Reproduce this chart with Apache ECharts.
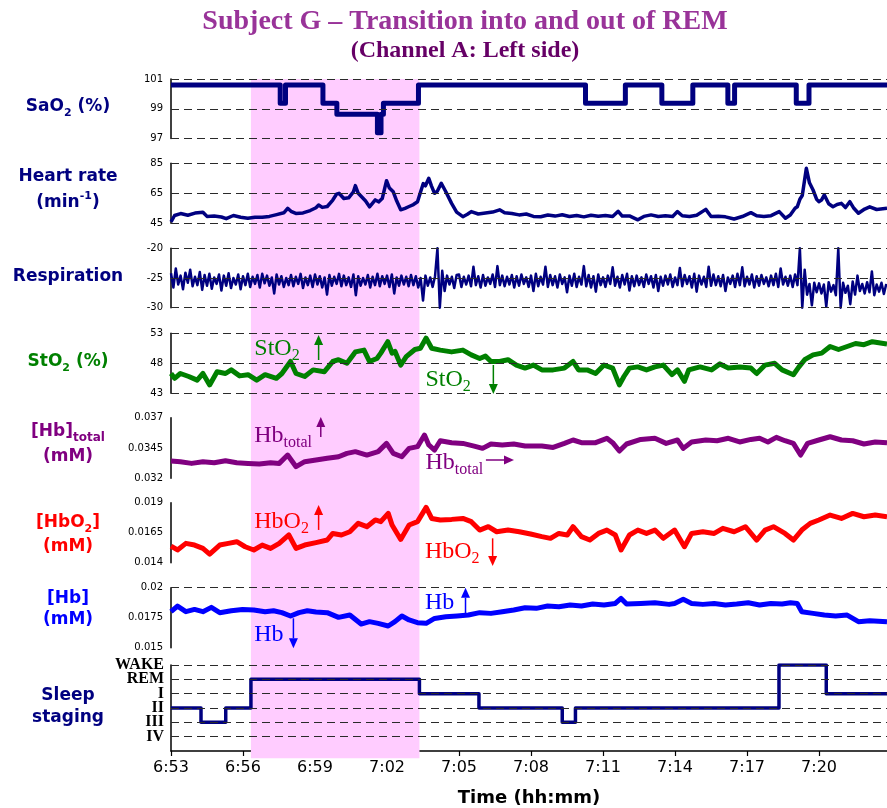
<!DOCTYPE html>
<html>
<head>
<meta charset="utf-8">
<script src="https://cdn.jsdelivr.net/npm/echarts@6/dist/echarts.min.js"></script>
<style>
  html, body { margin: 0; padding: 0; background: #ffffff; }
  #chart { width: 887px; height: 808px; }
</style>
</head>
<body>
<div id="chart"></div>
<script>
// ---- Recording data (time in minutes after the clock start) ----
const clockStart = [6, 53];          // 6:53
const timeEnd = 29.83;               // end of the recording window (min)
const timeTickStep = 3;              // one tick every 3 minutes

// SaO2 (%), step signal: [minute, value]
const sao2 = [
  [0, 100.6], [4.55, 99.37], [4.77, 100.6], [6.33, 99.37], [6.91, 98.63], [8.6, 97.39],
  [8.75, 98.63], [8.85, 99.37], [10.31, 100.6], [17.27, 99.37], [18.93, 100.6], [20.45, 99.37],
  [21.74, 100.6], [23.2, 99.37], [23.48, 100.6], [26.05, 99.37], [26.58, 100.6], [29.83, 100.6]
];

// Heart rate (1/min)
const heartRate = [
  [0,46.0],[0.15,50.2],[0.4,51.5],[0.7,50.4],[1.0,51.8],[1.33,52.4],[1.5,49.6],[1.8,49.8],[2.1,49.2],[2.3,48.1],
  [2.6,50.2],[2.9,49.0],[3.2,48.4],[3.5,49.1],[3.8,49.0],[4.1,49.6],[4.4,50.8],[4.7,52.0],[4.86,55.0],[5.0,53.0],
  [5.2,51.6],[5.5,51.9],[5.8,53.5],[6.04,55.4],[6.15,57.2],[6.3,55.6],[6.51,56.2],[6.74,60.5],[6.9,64.5],[7.0,65.0],
  [7.2,61.5],[7.4,62.0],[7.6,66.0],[7.68,70.1],[7.8,65.0],[7.92,63.0],[8.1,60.0],[8.27,56.0],[8.4,58.5],[8.51,60.6],
  [8.65,59.3],[8.8,61.5],[8.98,73.4],[9.1,68.5],[9.26,66.0],[9.4,60.0],[9.57,54.0],[9.75,55.0],[9.92,56.2],[10.1,57.5],
  [10.27,59.4],[10.4,66.0],[10.51,71.5],[10.6,70.0],[10.74,75.0],[10.85,70.0],[10.98,65.0],[11.1,66.5],[11.26,71.7],[11.45,66.0],
  [11.69,58.3],[11.9,52.5],[12.16,49.4],[12.35,51.0],[12.51,52.8],[12.8,51.2],[13.1,51.8],[13.4,52.5],[13.69,54.0],[13.9,52.0],
  [14.2,51.5],[14.5,50.6],[14.8,51.2],[15.1,49.6],[15.4,49.4],[15.7,50.5],[16.0,49.8],[16.3,50.7],[16.6,49.5],[16.9,50.2],
  [17.2,49.3],[17.5,50.4],[17.8,49.7],[18.1,50.2],[18.4,49.5],[18.63,53.0],[18.8,49.8],[19.1,49.9],[19.45,47.3],[19.7,49.6],
  [20.0,50.6],[20.3,49.5],[20.6,50.0],[20.9,49.6],[21.1,52.8],[21.3,50.0],[21.6,49.5],[21.9,50.4],[22.28,54.3],[22.5,49.5],
  [22.8,49.7],[23.1,49.3],[23.46,47.9],[23.8,49.5],[24.16,52.1],[24.4,50.0],[24.7,49.6],[25.0,50.1],[25.34,52.8],[25.6,48.4],
  [25.8,50.5],[26.0,55.0],[26.09,56.0],[26.2,61.0],[26.3,63.5],[26.47,81.7],[26.6,72.0],[26.75,67.2],[26.9,61.0],[26.99,59.4],
  [27.1,60.5],[27.22,63.9],[27.4,58.0],[27.58,56.0],[27.75,57.5],[27.93,58.3],[28.1,55.5],[28.28,59.4],[28.45,55.0],[28.64,51.7],
  [28.9,54.5],[29.11,56.0],[29.4,54.2],[29.83,55.0]
];

// Respiration signal, sampled every 0.1 min from 6:53
const respStepMin = 0.1;
const respiration = [
  -24.2,-26.6,-23.4,-26.1,-24.6,-26.9,-24.1,-25.8,-23.6,-26.4,
  -24.8,-26.2,-24.0,-27.0,-24.5,-26.3,-24.3,-26.8,-24.9,-26.0,
  -24.4,-27.1,-24.6,-26.3,-24.2,-26.7,-25.0,-26.1,-24.4,-26.9,
  -24.7,-26.2,-24.3,-26.5,-24.8,-26.0,-24.5,-26.6,-24.3,-25.9,
  -24.6,-26.3,-24.9,-27.6,-24.4,-26.1,-24.7,-26.5,-25.0,-26.2,
  -24.5,-26.4,-24.8,-26.0,-24.3,-26.7,-24.9,-26.2,-24.6,-26.5,
  -24.4,-26.1,-24.7,-26.6,-24.9,-27.8,-24.5,-26.3,-24.8,-26.0,
  -24.3,-26.4,-24.6,-26.2,-24.9,-26.5,-24.4,-27.9,-24.7,-26.3,
  -25.0,-26.1,-24.5,-26.6,-24.8,-26.2,-24.3,-26.4,-24.7,-26.0,
  -24.6,-26.5,-24.4,-27.6,-24.9,-26.3,-24.6,-26.1,-24.8,-26.4,
  -24.5,-26.2,-24.7,-26.6,-25.0,-28.8,-24.6,-26.3,-24.9,-26.5,
  -24.7,-20.0,-30.0,-23.8,-27.2,-24.6,-26.1,-24.8,-26.7,-24.5,
  -24.4,-26.5,-24.8,-26.1,-24.6,-26.4,-23.1,-26.2,-24.7,-26.6,
  -24.5,-26.3,-24.9,-26.0,-24.4,-26.5,-23.0,-26.2,-24.6,-26.4,
  -24.8,-26.1,-24.5,-26.6,-24.7,-26.3,-24.4,-26.0,-24.9,-26.5,
  -24.6,-27.2,-24.3,-26.4,-24.8,-26.1,-23.1,-26.5,-24.5,-26.2,
  -24.7,-26.6,-24.4,-26.0,-24.9,-27.4,-24.6,-26.3,-24.3,-26.5,
  -24.8,-26.1,-23.0,-26.4,-24.5,-26.6,-24.7,-27.3,-24.4,-26.2,
  -24.9,-26.5,-24.6,-26.0,-23.2,-26.3,-24.8,-26.6,-24.5,-26.1,
  -24.3,-27.1,-24.7,-26.4,-24.6,-26.2,-24.9,-26.5,-24.4,-26.0,
  -24.7,-26.6,-24.5,-27.2,-24.8,-26.3,-24.6,-26.1,-24.4,-26.5,
  -24.9,-26.2,-23.3,-26.4,-24.5,-26.0,-24.7,-26.6,-24.3,-27.3,
  -24.6,-26.1,-24.8,-26.5,-23.1,-26.3,-24.4,-26.2,-24.7,-26.4,
  -24.5,-27.2,-24.9,-26.0,-24.6,-26.5,-24.3,-26.2,-23.2,-26.4,
  -24.8,-26.1,-24.4,-26.6,-24.7,-26.3,-24.5,-26.0,-24.9,-26.4,
  -24.6,-26.2,-24.3,-26.5,-23.4,-26.1,-24.8,-26.3,-24.6,-26.5,
  -24.4,-26.2,-20.0,-30.0,-23.6,-27.8,-26.0,-29.6,-25.8,-27.4,
  -25.9,-27.6,-26.1,-29.8,-25.7,-27.3,-26.2,-27.9,-20.0,-30.0,
  -25.8,-27.5,-26.3,-29.4,-25.6,-27.8,-24.6,-27.2,-26.0,-27.6,
  -25.7,-27.4,-23.9,-27.9,-26.1,-27.3,-25.8,-27.7,-26.0
];

// Tissue oxygen saturation StO2 (%)
const sto2 = [
  [0,46.3],[0.15,45.5],[0.39,46.3],[0.74,45.8],[1.09,45.2],[1.33,46.3],[1.61,44.4],[1.92,46.6],[2.27,46.3],[2.51,46.9],
  [2.86,45.9],[3.21,46.1],[3.57,45.2],[3.92,46.1],[4.39,45.5],[4.62,46.3],[4.98,48.3],[5.21,46.3],[5.57,45.8],[5.92,46.9],
  [6.39,46.6],[6.74,48.3],[6.98,48.6],[7.33,48.0],[7.68,49.9],[8.04,50.2],[8.27,48.3],[8.58,48.8],[8.74,49.7],[9.03,51.6],
  [9.21,49.7],[9.33,50.0],[9.57,47.7],[9.8,49.1],[10.16,50.3],[10.39,50.5],[10.63,52.2],[10.86,50.5],[11.22,50.2],[11.69,49.9],
  [12.16,50.2],[12.51,49.4],[12.86,48.8],[13.1,49.2],[13.33,48.3],[13.69,48.3],[14.04,48.6],[14.39,47.7],[14.75,47.2],[15.1,47.7],
  [15.45,46.9],[15.92,46.9],[16.39,47.2],[16.75,48.3],[16.98,46.9],[17.34,46.9],[17.69,46.3],[18.04,47.7],[18.4,47.2],[18.68,44.4],
  [18.87,45.8],[19.1,47.2],[19.45,47.4],[19.81,46.9],[20.16,47.4],[20.51,47.7],[20.87,46.1],[21.1,46.9],[21.39,45.0],[21.57,46.9],
  [22.04,47.4],[22.52,46.9],[22.87,47.9],[23.22,47.2],[23.69,47.4],[24.16,47.2],[24.4,46.3],[24.75,47.7],[25.15,48.0],[25.46,46.9],
  [25.93,46.1],[26.16,47.4],[26.4,48.6],[26.75,49.4],[27.11,49.7],[27.46,50.8],[27.81,50.3],[28.17,50.8],[28.52,51.3],[28.87,51.1],
  [29.22,51.6],[29.83,51.2]
];

// Total haemoglobin [Hb]total (mM)
const hbTotal = [
  [0,0.03343],[0.39,0.03337],[0.86,0.03323],[1.33,0.03337],[1.8,0.03329],[2.27,0.03345],[2.74,0.03329],[3.21,0.03323],[3.68,0.03318],[4.15,0.03329],
  [4.51,0.03323],[4.86,0.03392],[5.21,0.03296],[5.57,0.03337],[6.04,0.03351],[6.51,0.03365],[6.98,0.03378],[7.33,0.03406],[7.68,0.0342],[8.16,0.03392],
  [8.63,0.0342],[8.98,0.03488],[9.26,0.03406],[9.62,0.03378],[9.92,0.03447],[10.27,0.03461],[10.56,0.03557],[10.74,0.03475],[10.98,0.03433],[11.22,0.0351],
  [11.69,0.03494],[12.16,0.03488],[12.63,0.03466],[12.98,0.03447],[13.33,0.03483],[13.8,0.03475],[14.28,0.03483],[14.75,0.03466],[15.45,0.03466],[15.92,0.03455],
  [16.39,0.03488],[16.75,0.03516],[17.1,0.03494],[17.69,0.03494],[18.16,0.0353],[18.4,0.03494],[18.68,0.03425],[18.98,0.03483],[19.57,0.03521],[20.16,0.0353],
  [20.63,0.03488],[21.1,0.03516],[21.34,0.03447],[21.69,0.035],[22.28,0.03516],[22.75,0.0351],[23.22,0.0353],[23.69,0.035],[24.16,0.03521],[24.52,0.0353],
  [24.87,0.035],[25.22,0.03538],[25.58,0.0351],[25.93,0.03488],[26.23,0.03392],[26.52,0.03488],[26.99,0.03516],[27.46,0.03543],[27.93,0.03516],[28.4,0.0351],
  [28.87,0.03483],[29.34,0.035],[29.83,0.03494]
];

// Oxyhaemoglobin [HbO2] (mM)
const hbO2 = [
  [0,0.01539],[0.27,0.01506],[0.62,0.01561],[0.98,0.01547],[1.33,0.01519],[1.61,0.01472],[2.03,0.01547],[2.39,0.01561],[2.74,0.01575],[3.09,0.01533],
  [3.45,0.01506],[3.8,0.01547],[4.15,0.01519],[4.51,0.01561],[4.91,0.01631],[5.21,0.01519],[5.57,0.01547],[6.04,0.01567],[6.51,0.01589],[6.74,0.01644],
  [7.1,0.01631],[7.45,0.01658],[7.8,0.01728],[8.16,0.017],[8.51,0.01756],[8.74,0.01742],[9.05,0.01811],[9.21,0.01714],[9.57,0.01594],[9.92,0.01714],
  [10.27,0.01742],[10.63,0.01861],[10.86,0.01769],[11.22,0.01756],[11.69,0.01761],[12.16,0.01769],[12.51,0.01742],[12.86,0.01672],[13.22,0.017],[13.57,0.01658],
  [14.04,0.01672],[14.51,0.01658],[14.98,0.01639],[15.45,0.01617],[15.81,0.01603],[16.16,0.01644],[16.51,0.01631],[16.75,0.017],[17.1,0.01617],[17.45,0.01589],
  [17.81,0.01644],[18.16,0.01672],[18.51,0.01631],[18.75,0.01506],[19.1,0.01631],[19.45,0.01672],[19.81,0.01644],[20.16,0.01672],[20.51,0.01603],[20.98,0.01672],
  [21.39,0.01533],[21.69,0.01644],[22.16,0.01658],[22.63,0.01644],[22.99,0.01686],[23.46,0.01658],[23.93,0.017],[24.4,0.01589],[24.75,0.01672],[25.1,0.017],
  [25.58,0.01644],[25.93,0.01589],[26.28,0.01672],[26.63,0.01728],[26.99,0.01756],[27.46,0.01797],[27.93,0.01769],[28.4,0.01811],[28.87,0.01783],[29.34,0.01797],
  [29.83,0.01783]
];

// Deoxyhaemoglobin [Hb] (mM)
const hbDeoxy = [
  [0,0.018],[0.27,0.01847],[0.62,0.018],[0.98,0.01819],[1.33,0.018],[1.68,0.01836],[2.03,0.01792],[2.51,0.01808],[2.98,0.01819],[3.45,0.01814],
  [3.92,0.018],[4.27,0.01808],[4.62,0.01792],[4.98,0.01764],[5.33,0.01792],[5.68,0.01808],[6.04,0.01797],[6.51,0.01792],[6.98,0.01753],[7.45,0.01772],
  [7.92,0.01697],[8.27,0.01717],[8.63,0.01703],[9.05,0.01681],[9.33,0.01717],[9.62,0.01764],[9.92,0.01731],[10.27,0.01708],[10.63,0.01703],[10.98,0.01744],
  [11.45,0.01758],[11.92,0.01764],[12.39,0.01772],[12.86,0.01792],[13.33,0.01786],[13.8,0.018],[14.28,0.01814],[14.75,0.01833],[15.22,0.01828],[15.69,0.01847],
  [16.16,0.01842],[16.63,0.01856],[17.1,0.01847],[17.57,0.01864],[18.04,0.01856],[18.51,0.01869],[18.75,0.01911],[18.98,0.01864],[19.57,0.01869],[20.16,0.01875],
  [20.75,0.01861],[20.98,0.01869],[21.34,0.01903],[21.69,0.01869],[22.16,0.01861],[22.63,0.01869],[23.1,0.01856],[23.57,0.01864],[24.05,0.01875],[24.52,0.01856],
  [24.99,0.01869],[25.46,0.01864],[25.81,0.01875],[26.09,0.01869],[26.28,0.018],[26.75,0.01786],[27.22,0.01772],[27.69,0.01764],[28.17,0.01772],[28.64,0.01717],
  [29.11,0.01725],[29.83,0.01717]
];

// Sleep staging: [segment start minute, stage]; stages listed bottom to top
const stageNames = ['IV', 'III', 'II', 'I', 'REM', 'WAKE'];
const sleepStages = [
  [0, 'II'], [1.25, 'III'], [2.28, 'II'], [3.33, 'REM'], [10.35, 'I'], [12.83, 'II'],
  [16.3, 'III'], [16.85, 'II'], [25.33, 'WAKE'], [27.3, 'I'], [29.83, 'I']
];

// Axis tick values per panel
const sao2Ticks = [97, 99, 101];
const hrTicks = [45, 65, 85];
const respTicks = [-30, -25, -20];
const sto2Ticks = [43, 48, 53];
const hbTotalTicks = [0.032, 0.0345, 0.037];
const hbO2Ticks = [0.014, 0.0165, 0.019];
const hbTicks = [0.015, 0.0175, 0.02];

// ---- Layout ----
const GRID_LEFT = 171;
const NAVY = '#000080', GREEN = '#008000', PURPLE = '#800080', RED = '#ff0000', BLUE = '#0000ff';
const TICK_FONT = 'DejaVu Sans';
const SERIF = 'Liberation Serif';

// stage levels: an empty slot at the bottom (0), then IV (1) ... WAKE (6)
const stageAxis = [''].concat(stageNames);
const stageLevels = stageNames.map((s, k) => k + 1);
const respData = respiration.map((v, i) => [i * respStepMin, v]);
const sleepData = sleepStages.map(([t, s]) => [t, stageAxis.indexOf(s)]);
const remIdx = sleepStages.findIndex(s => s[1] === 'REM');
const remWindow = [sleepStages[remIdx][0], sleepStages[remIdx + 1][0]];

const panels = [
  { top: 79,    height: 59.5, min: 97,    max: 101,   step: 1,      ticks: sao2Ticks,    data: sao2,      color: NAVY,   width: 5,   stepLine: 'end' },
  { top: 163.3, height: 60,   min: 45,    max: 85,    step: 5,      ticks: hrTicks,      data: heartRate, color: NAVY,   width: 3.5 },
  { top: 248.3, height: 59.4, min: -30,   max: -20,   step: 5,      ticks: respTicks,    data: respData,  color: NAVY,   width: 2.5 },
  { top: 333.3, height: 60,   min: 43,    max: 53,    step: 1,      ticks: sto2Ticks,    data: sto2,      color: GREEN,  width: 5 },
  { top: 417.7, height: 60.6, min: 0.032, max: 0.037, step: 0.0005, ticks: hbTotalTicks, data: hbTotal,   color: PURPLE, width: 5 },
  { top: 502.7, height: 60,   min: 0.014, max: 0.019, step: 0.0005, ticks: hbO2Ticks,    data: hbO2,      color: RED,    width: 5 },
  { top: 587.7, height: 60,   min: 0.015, max: 0.02,  step: 0.0025, ticks: hbTicks,      data: hbDeoxy,   color: BLUE,   width: 5 },
  { top: 665,   height: 93.3, min: 0,     max: 6,     step: 1,      ticks: stageLevels,  data: sleepData, color: NAVY,   width: 3.5, stepLine: 'end', stages: true }
];

function clockLabel(m) {
  const total = clockStart[0] * 60 + clockStart[1] + Math.round(m);
  return Math.floor(total / 60) + ':' + String(total % 60).padStart(2, '0');
}

const grids = [], xAxes = [], yAxes = [], series = [];
const dashed = { color: '#2a2a2a', width: 1.2, type: [8, 5] };

panels.forEach((p, i) => {
  grids.push({ left: GRID_LEFT, right: 0, top: p.top, height: p.height });
  const isBottom = i === panels.length - 1;
  xAxes.push({
    type: 'value', gridIndex: i, min: 0, max: timeEnd, interval: timeTickStep,
    show: isBottom,
    axisLine: { show: isBottom, onZero: false, lineStyle: { color: '#000', width: 1.5 } },
    axisTick: { show: isBottom, length: 5, lineStyle: { color: '#000', width: 1.2 } },
    axisLabel: { show: isBottom, fontFamily: TICK_FONT, fontSize: 16, color: '#000', margin: 9,
                 showMaxLabel: false, formatter: clockLabel },
    splitLine: { show: false },
    name: isBottom ? 'Time (hh:mm)' : '',
    nameLocation: 'middle', nameGap: 38,
    nameTextStyle: { fontFamily: TICK_FONT, fontWeight: 'bold', fontSize: 18, color: '#000' }
  });
  yAxes.push({
    type: 'value', gridIndex: i, min: p.min, max: p.max, interval: p.step,
    axisLine: { show: true, onZero: false, lineStyle: { color: '#000', width: 1.5 } },
    axisTick: { show: false },
    splitLine: { show: false },
    axisLabel: p.stages ? { show: false } : {
      fontFamily: TICK_FONT, fontSize: 10, color: '#000', margin: 8,
      showMaxLabel: true, showMinLabel: true,
      formatter: v => {
        const t = p.ticks.find(k => Math.abs(k - v) < p.step * 1e-3);
        return t === undefined ? '' : String(t);
      }
    }
  });
  series.push({
    type: 'line', xAxisIndex: i, yAxisIndex: i, data: p.data,
    step: p.stepLine || false, showSymbol: false, symbol: 'none', silent: true,
    lineStyle: { color: p.color, width: p.width, join: 'round' },
    z: 3,
    markLine: {
      silent: true, symbol: 'none', animation: false,
      label: { show: false },
      lineStyle: dashed,
      data: p.ticks.map(v => ({ yAxis: v }))
    }
  });
});

// REM shading across all panels on a full-height grid
const shadeIdx = panels.length;
grids.push({ left: GRID_LEFT, right: 0, top: 79, bottom: 808 - 758.3 });
xAxes.push({ type: 'value', gridIndex: shadeIdx, min: 0, max: timeEnd, interval: timeTickStep, show: false });
yAxes.push({ type: 'value', gridIndex: shadeIdx, min: 0, max: 1, interval: 1, show: false });
series.push({
  type: 'line', xAxisIndex: shadeIdx, yAxisIndex: shadeIdx, z: -1, silent: true,
  data: [[remWindow[0], 0.5], [remWindow[1], 0.5]], showSymbol: false, symbol: 'none',
  lineStyle: { opacity: 0, width: 0 },
  markArea: { silent: true, itemStyle: { color: '#ffccff' },
              data: [[{ xAxis: remWindow[0] }, { xAxis: remWindow[1] }]] }
});

// Stage names on a category axis sharing the sleep panel (same levels as the value axis)
yAxes.push({
  type: 'category', gridIndex: panels.length - 1, data: stageAxis, boundaryGap: false, position: 'left',
  axisLine: { show: false }, axisTick: { show: false }, splitLine: { show: false },
  axisLabel: { interval: 0, fontFamily: SERIF, fontWeight: 'bold', fontSize: 16, color: '#000', margin: 7 }
});

// ---- Static texts: title and panel names ----
const labelRich = (color) => ({
  a: { fontFamily: TICK_FONT, fontWeight: 'bold', fontSize: 17, fill: color, lineHeight: 24, verticalAlign: 'middle' },
  s: { fontFamily: TICK_FONT, fontWeight: 'bold', fontSize: 11, fill: color, verticalAlign: 'bottom' },
  t: { fontFamily: TICK_FONT, fontWeight: 'bold', fontSize: 12, fill: color, verticalAlign: 'bottom' },
  u: { fontFamily: TICK_FONT, fontWeight: 'bold', fontSize: 11, fill: color, verticalAlign: 'top' }
});
function sideLabel(text, y, color) {
  return { type: 'text', silent: true, x: 68, y: y,
           style: { text: text, rich: labelRich(color), align: 'center', verticalAlign: 'middle', fill: color } };
}
const staticGraphics = [
  { type: 'text', silent: true, x: 465, y: 22,
    style: { text: 'Subject G \u2013 Transition into and out of REM', fontFamily: SERIF, fontWeight: 'bold',
             fontSize: 28, fill: '#993399', align: 'center', verticalAlign: 'middle' } },
  { type: 'text', silent: true, x: 465, y: 51,
    style: { text: '(Channel A: Left side)', fontFamily: SERIF, fontWeight: 'bold',
             fontSize: 24, fill: '#660066', align: 'center', verticalAlign: 'middle' } },
  sideLabel('{a|SaO}{s|2}{a| (%)}', 107, NAVY),
  sideLabel('{a|Heart rate}', 177, NAVY),
  sideLabel('{a|(min}{u|-1}{a|)}', 203, NAVY),
  sideLabel('{a|Respiration}', 277, NAVY),
  sideLabel('{a|StO}{s|2}{a| (%)}', 362, GREEN),
  sideLabel('{a|[Hb]}{t|total}', 432, PURPLE),
  sideLabel('{a|(mM)}', 457, PURPLE),
  sideLabel('{a|[HbO}{s|2}{a|]}', 523, RED),
  sideLabel('{a|(mM)}', 547, RED),
  sideLabel('{a|[Hb]}', 599, BLUE),
  sideLabel('{a|(mM)}', 620, BLUE),
  sideLabel('{a|Sleep}', 696, NAVY),
  sideLabel('{a|staging}', 718, NAVY)
];

const chart = echarts.init(document.getElementById('chart'), null, { renderer: 'canvas' });
chart.setOption({
  animation: false,
  backgroundColor: '#ffffff',
  grid: grids, xAxis: xAxes, yAxis: yAxes, series: series,
  graphic: staticGraphics
});

// ---- Trend annotations placed in data coordinates of each panel ----
const annotations = [
  { grid: 3, at: [3.47, 50.5],     text: '{m|StO}{s|2}',     color: GREEN },
  { grid: 3, at: [10.6, 45.2],     text: '{m|StO}{s|2}',     color: GREEN },
  { grid: 4, at: [3.47, 0.03553],  text: '{m|Hb}{s|total}',  color: PURPLE },
  { grid: 4, at: [10.6, 0.03326],  text: '{m|Hb}{s|total}',  color: PURPLE },
  { grid: 5, at: [3.47, 0.01743],  text: '{m|HbO}{s|2}',     color: RED },
  { grid: 5, at: [10.58, 0.01493], text: '{m|HbO}{s|2}',     color: RED },
  { grid: 6, at: [10.58, 0.01877], text: '{m|Hb}',           color: BLUE },
  { grid: 6, at: [3.47, 0.01606],  text: '{m|Hb}',           color: BLUE }
];
const arrows = [
  { grid: 3, from: [6.15, 48.55],   to: [6.15, 52.72],   color: GREEN },
  { grid: 3, from: [13.43, 47.72],  to: [13.43, 42.9],   color: GREEN },
  { grid: 4, from: [6.24, 0.0354],  to: [6.24, 0.03706], color: PURPLE },
  { grid: 4, from: [13.12, 0.03351],to: [14.29, 0.03351],color: PURPLE },
  { grid: 5, from: [6.15, 0.01673], to: [6.15, 0.01881], color: RED },
  { grid: 5, from: [13.4, 0.01603], to: [13.4, 0.01373], color: RED },
  { grid: 6, from: [12.27, 0.01787],to: [12.27, 0.02],   color: BLUE },
  { grid: 6, from: [5.1, 0.01745],  to: [5.1, 0.01495],  color: BLUE }
];

const annGraphics = [];
annotations.forEach(a => {
  const [x, y] = chart.convertToPixel({ gridIndex: a.grid }, a.at);
  annGraphics.push({
    type: 'text', silent: true, x: x, y: y, z: 10,
    style: {
      text: a.text, align: 'left', verticalAlign: 'middle', fill: a.color,
      rich: {
        m: { fontFamily: SERIF, fontSize: 24, fill: a.color, lineHeight: 30, verticalAlign: 'middle' },
        s: { fontFamily: SERIF, fontSize: 16, fill: a.color, verticalAlign: 'bottom' }
      }
    }
  });
});
arrows.forEach(a => {
  const p0 = chart.convertToPixel({ gridIndex: a.grid }, a.from);
  const p1 = chart.convertToPixel({ gridIndex: a.grid }, a.to);
  const dx = p1[0] - p0[0], dy = p1[1] - p0[1];
  const len = Math.hypot(dx, dy);
  const ux = dx / len, uy = dy / len;
  const headLen = 10, headHalf = 4.5;
  const bx = p1[0] - ux * headLen, by = p1[1] - uy * headLen;
  annGraphics.push({
    type: 'line', silent: true, z: 10,
    shape: { x1: p0[0], y1: p0[1], x2: bx, y2: by },
    style: { stroke: a.color, lineWidth: 1.5 }
  });
  annGraphics.push({
    type: 'polygon', silent: true, z: 10,
    shape: { points: [[p1[0], p1[1]], [bx - uy * headHalf, by + ux * headHalf], [bx + uy * headHalf, by - ux * headHalf]] },
    style: { fill: a.color }
  });
});

chart.setOption({ graphic: staticGraphics.concat(annGraphics) });
</script>
</body>
</html>
